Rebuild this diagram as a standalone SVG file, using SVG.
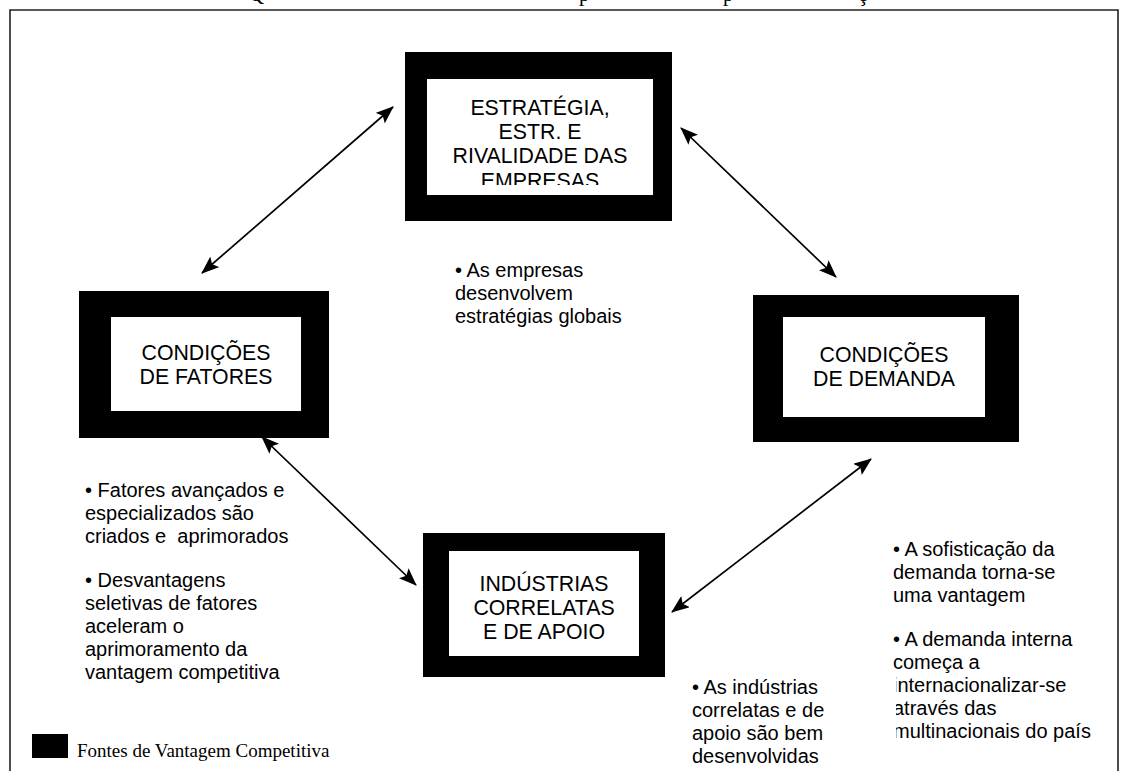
<svg xmlns="http://www.w3.org/2000/svg" width="1128" height="771" viewBox="0 0 1128 771">
<style>
.box{fill:#000}
.inner{fill:#fff}
.nt{font-family:"Liberation Sans",Arial,sans-serif;font-size:21.3px;fill:#000;text-anchor:middle}
.bt{font-family:"Liberation Sans",Arial,sans-serif;font-size:20px;fill:#000}
.ser{font-family:"Liberation Serif","Times New Roman",serif;fill:#000}
.conn{stroke:#000;stroke-width:1.7;fill:none;marker-start:url(#ah);marker-end:url(#ah)}
</style>
<defs>
<marker id="ah" viewBox="0 0 18 14" refX="17" refY="7" markerWidth="18" markerHeight="14" markerUnits="userSpaceOnUse" orient="auto-start-reverse">
<path d="M0,0 L18,7 L0,14 L3.5,7 z" fill="#000"/>
</marker>
<clipPath id="clipE"><rect x="427" y="79" width="226" height="106"/></clipPath>
<clipPath id="clipR"><rect x="896" y="670" width="200" height="80"/></clipPath>
</defs>
<rect width="1128" height="771" fill="#fff"/>
<text class="ser" font-size="21" y="0.5"><tspan x="249">Q</tspan><tspan x="579">p</tspan><tspan x="723">p</tspan><tspan x="858">ç</tspan></text>
<path d="M10,771 V10 H1118 V771" fill="none" stroke="#222" stroke-width="1.6"/>
<g id="connectors">
<line class="conn" x1="202" y1="273" x2="393" y2="107"/>
<line class="conn" x1="681" y1="128" x2="836" y2="277"/>
<line class="conn" x1="262" y1="437" x2="416" y2="585"/>
<line class="conn" x1="871" y1="459" x2="672" y2="612"/>
</g>
<g id="node-estrategia">
<rect class="box" x="405" y="52" width="267" height="169"/>
<rect class="inner" x="427" y="79" width="226" height="116"/>
<g clip-path="url(#clipE)">
<text class="nt" x="540" y="114.5">ESTRATÉGIA,</text>
<text class="nt" x="540" y="138.5">ESTR. E</text>
<text class="nt" x="540" y="163">RIVALIDADE DAS</text>
<text class="nt" x="540" y="187.5">EMPRESAS</text>
</g>
</g>
<g id="node-fatores">
<rect class="box" x="79" y="291" width="250" height="147"/>
<rect class="inner" x="111" y="317" width="190" height="94"/>
<text class="nt" x="206" y="360">CONDIÇÕES</text>
<text class="nt" x="206" y="384">DE FATORES</text>
</g>
<g id="node-demanda">
<rect class="box" x="753" y="295" width="266" height="147"/>
<rect class="inner" x="783" y="317" width="202" height="100"/>
<text class="nt" x="884" y="362">CONDIÇÕES</text>
<text class="nt" x="884" y="386">DE DEMANDA</text>
</g>
<g id="node-industrias">
<rect class="box" x="423" y="533" width="242" height="144"/>
<rect class="inner" x="449" y="551" width="190" height="105"/>
<text class="nt" x="544" y="591">INDÚSTRIAS</text>
<text class="nt" x="544" y="615">CORRELATAS</text>
<text class="nt" x="544" y="639">E DE APOIO</text>
</g>
<g id="text-empresas">
<text class="bt" x="455" y="277">• As empresas</text>
<text class="bt" x="455" y="300">desenvolvem</text>
<text class="bt" x="455" y="323">estratégias globais</text>
</g>
<g id="text-fatores">
<text class="bt" x="85" y="497">• Fatores avançados e</text>
<text class="bt" x="85" y="520">especializados são</text>
<text class="bt" x="85" y="543" xml:space="preserve">criados e  aprimorados</text>
<text class="bt" x="85" y="587">• Desvantagens</text>
<text class="bt" x="85" y="610">seletivas de fatores</text>
<text class="bt" x="85" y="633">aceleram o</text>
<text class="bt" x="85" y="656">aprimoramento da</text>
<text class="bt" x="85" y="679">vantagem competitiva</text>
</g>
<g id="text-demanda">
<text class="bt" x="893" y="556">• A sofisticação da</text>
<text class="bt" x="893" y="579">demanda torna-se</text>
<text class="bt" x="893" y="602">uma vantagem</text>
<text class="bt" x="893" y="646">• A demanda interna</text>
<text class="bt" x="893" y="669">começa a</text>
<g clip-path="url(#clipR)">
<text class="bt" x="893" y="692">internacionalizar-se</text>
<text class="bt" x="893" y="715">através das</text>
<text class="bt" x="893" y="738">multinacionais do país</text>
</g>
</g>
<g id="text-industrias">
<text class="bt" x="692" y="694">• As indústrias</text>
<text class="bt" x="692" y="717">correlatas e de</text>
<text class="bt" x="692" y="740">apoio são bem</text>
<text class="bt" x="692" y="763">desenvolvidas</text>
</g>
<g id="legend">
<rect x="32" y="734" width="36" height="24" fill="#000"/>
<text class="ser" font-size="19" x="77" y="757">Fontes de Vantagem Competitiva</text>
</g>
</svg>
